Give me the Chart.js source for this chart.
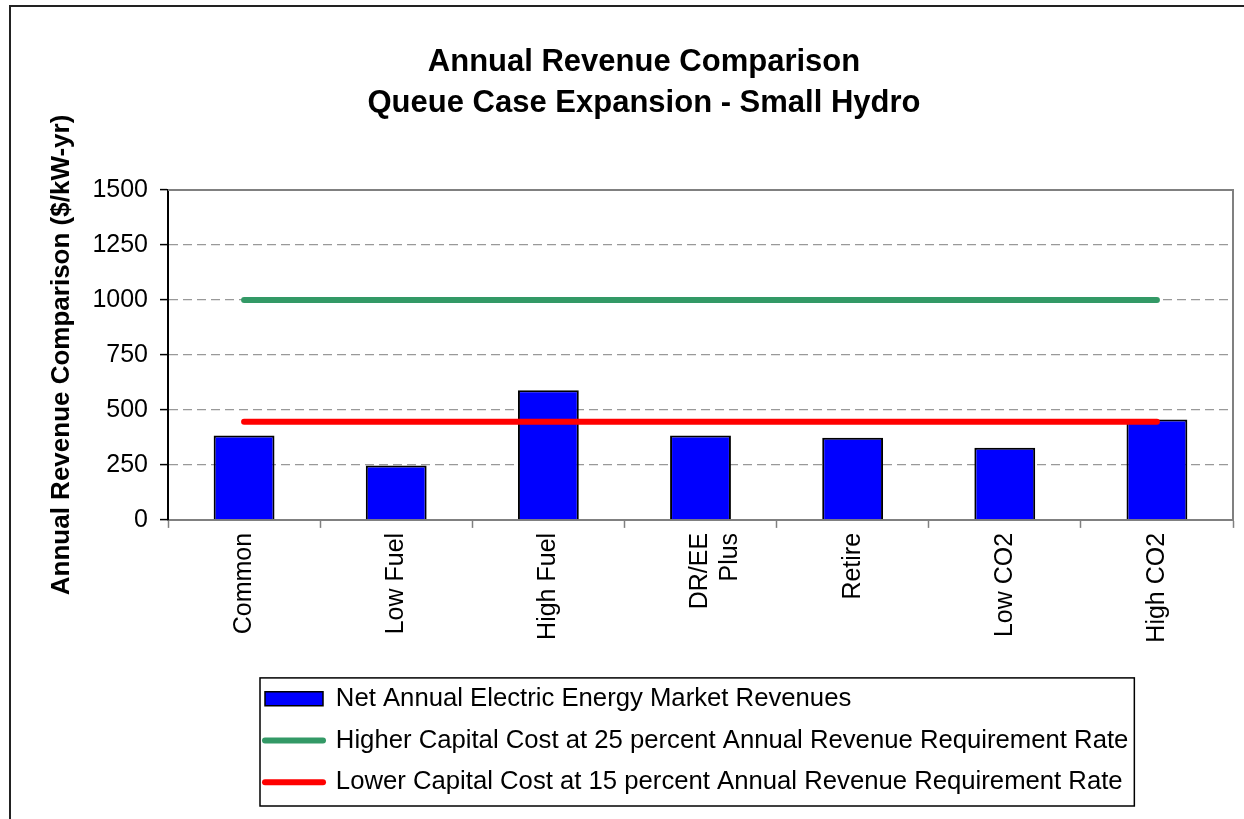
<!DOCTYPE html>
<html>
<head>
<meta charset="utf-8">
<script src="https://cdn.jsdelivr.net/npm/chart.js@4.4.0/dist/chart.umd.min.js"></script>
<style>
  html, body { margin: 0; padding: 0; background: #fff; }
  #wrap { width: 1244px; height: 819px; }
</style>
</head>
<body>
<div id="wrap"><canvas id="c" width="1244" height="819"></canvas></div>
<script>
// Scenario categories and revenue figures ($/kW-yr)
const categories = ['Common', 'Low Fuel', 'High Fuel', ['DR/EE', 'Plus'], 'Retire', 'Low CO2', 'High CO2'];
const netRevenues = [384, 247, 590, 384, 373, 328, 456];
const higherCapitalCost = [1000, 1000, 1000, 1000, 1000, 1000, 1000];
const lowerCapitalCost = [446, 446, 446, 446, 446, 446, 446];
const yAxisMin = 0;
const yAxisMax = 1500;
const yAxisStep = 250;

const FONT = "'Liberation Sans', Arial, sans-serif";

// Frame, plot border, legend box and legend/title placement
const framePlugin = {
  id: 'frame',
  afterLayout(chart) {
    const lg = chart.legend;
    const w = lg.width;
    lg.left = 249;
    lg.right = 249 + w;
    const t = chart.titleBlock;
    t.left = 44;
    t.right = 1244;
  },
  beforeDraw(chart) {
    const ctx = chart.ctx;
    ctx.save();
    ctx.fillStyle = '#fff';
    ctx.fillRect(0, 0, chart.width, chart.height);
    ctx.restore();
  },
  afterDraw(chart) {
    const ctx = chart.ctx;
    const a = chart.chartArea;
    ctx.save();
    // plot area border (top and right)
    ctx.strokeStyle = '#808080';
    ctx.lineWidth = 2;
    ctx.beginPath();
    ctx.moveTo(a.left, a.top);
    ctx.lineTo(a.right, a.top);
    ctx.lineTo(a.right, a.bottom);
    ctx.stroke();
    // outer chart frame
    ctx.strokeStyle = '#222';
    ctx.lineWidth = 2;
    ctx.beginPath();
    ctx.moveTo(10, chart.height);
    ctx.lineTo(10, 6);
    ctx.lineTo(chart.width, 6);
    ctx.stroke();
    // legend box
    const lg = chart.legend;
    if (lg && lg.legendHitBoxes && lg.legendHitBoxes.length) {
      let maxRight = 0;
      lg.legendHitBoxes.forEach(h => { maxRight = Math.max(maxRight, h.left + h.width); });
      const left = lg.left + 11;
      const top = lg.top + 8;
      const right = maxRight + 6;
      const bottom = lg.bottom + 1;
      ctx.strokeStyle = '#000';
      ctx.lineWidth = 1.5;
      ctx.strokeRect(left, top, right - left, bottom - top);
    }
    ctx.restore();
  }
};

new Chart(document.getElementById('c'), {
  type: 'bar',
  data: {
    labels: categories,
    datasets: [
      {
        type: 'bar',
        label: 'Net Annual Electric Energy Market Revenues',
        data: netRevenues,
        backgroundColor: '#0000FF',
        borderColor: '#000000',
        borderWidth: 2,
        barPercentage: 0.4,
        categoryPercentage: 1.0,
        order: 2
      },
      {
        type: 'line',
        label: 'Higher Capital Cost at 25 percent Annual Revenue Requirement Rate',
        data: higherCapitalCost,
        borderColor: '#339966',
        backgroundColor: '#339966',
        borderWidth: 6,
        borderCapStyle: 'round',
        pointRadius: 0,
        pointHoverRadius: 0,
        fill: false,
        order: 1
      },
      {
        type: 'line',
        label: 'Lower Capital Cost at 15 percent Annual Revenue Requirement Rate',
        data: lowerCapitalCost,
        borderColor: '#FF0000',
        backgroundColor: '#FF0000',
        borderWidth: 6,
        borderCapStyle: 'round',
        pointRadius: 0,
        pointHoverRadius: 0,
        fill: false,
        order: 1
      }
    ]
  },
  options: {
    responsive: false,
    animation: false,
    devicePixelRatio: 1,
    layout: { padding: { left: 0, right: 11, top: 0, bottom: 14 } },
    plugins: {
      tooltip: { enabled: false },
      title: {
        display: true,
        text: ['Annual Revenue Comparison', 'Queue Case Expansion - Small Hydro'],
        color: '#000',
        font: { family: FONT, size: 31, weight: 'bold', lineHeight: 1.3226 },
        padding: { top: 41.5, bottom: 66.5 }
      },
      legend: {
        display: true,
        position: 'bottom',
        align: 'start',
        labels: {
          color: '#000',
          font: { family: FONT, size: 25.7 },
          padding: 16,
          usePointStyle: true,
          pointStyleWidth: 58,
          boxHeight: 14,
          sort: (a, b) => a.datasetIndex - b.datasetIndex,
          generateLabels(chart) {
            const items = Chart.defaults.plugins.legend.labels.generateLabels(chart);
            items.forEach(it => {
              const ds = chart.data.datasets[it.datasetIndex];
              if (ds.type === 'line') {
                it.pointStyle = 'line';
                it.lineCap = 'round';
                it.lineWidth = 6;
                it.strokeStyle = ds.borderColor;
                it.fillStyle = ds.borderColor;
              } else {
                it.pointStyle = 'rect';
                it.lineWidth = 1.5;
                it.strokeStyle = '#000';
                it.fillStyle = ds.backgroundColor;
              }
            });
            return items;
          }
        }
      }
    },
    scales: {
      x: {
        type: 'category',
        offset: true,
        afterFit(scale) { scale.height = 150; },
        grid: {
          offset: true,
          drawOnChartArea: false,
          drawTicks: true,
          tickLength: 8,
          tickColor: '#808080',
          tickWidth: 1.5
        },
        border: { display: true, color: '#808080', width: 2 },
        ticks: {
          color: '#000',
          font: { family: FONT, size: 25 },
          maxRotation: 90,
          minRotation: 90,
          padding: 5,
          autoSkip: false
        }
      },
      y: {
        type: 'linear',
        min: yAxisMin,
        max: yAxisMax,
        afterFit(scale) { scale.width = 168; },
        title: {
          display: true,
          text: 'Annual Revenue Comparison ($/kW-yr)',
          color: '#000',
          font: { family: FONT, size: 26, weight: 'bold' },
          padding: { top: 46, bottom: 0 }
        },
        grid: {
          color: (ctx) => (ctx.tick && (ctx.tick.value === yAxisMin || ctx.tick.value === yAxisMax)) ? 'rgba(0,0,0,0)' : '#999999',
          lineWidth: 1.2,
          drawTicks: true,
          tickLength: 8,
          tickColor: '#000',
          tickWidth: 1.5
        },
        border: { display: true, color: '#000', width: 2, dash: [9, 5] },
        ticks: {
          stepSize: yAxisStep,
          color: '#000',
          font: { family: FONT, size: 25 },
          padding: 12,
          callback: (value) => String(value)
        }
      }
    }
  },
  plugins: [framePlugin]
});
</script>
</body>
</html>
